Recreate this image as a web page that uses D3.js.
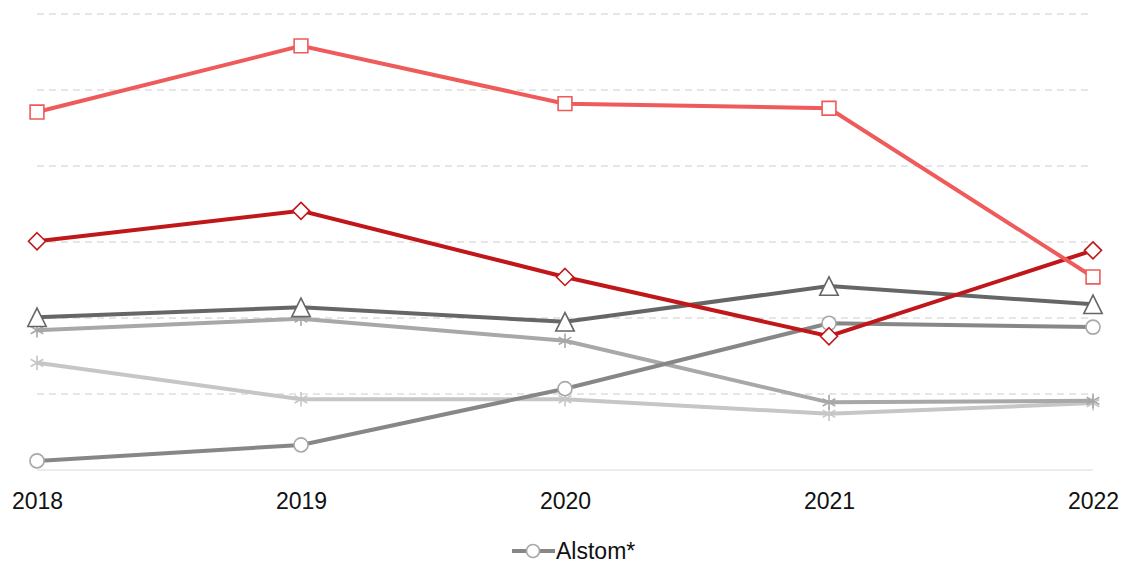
<!DOCTYPE html>
<html>
<head>
<meta charset="utf-8">
<script src="https://cdn.jsdelivr.net/npm/d3@7"></script>
<style>
  body { margin: 0; background: #fff; }
  text { font-family: "Liberation Sans", Arial, sans-serif; }
</style>
</head>
<body>
<div id="chart"></div>
<script>
// data
const years = ["2018", "2019", "2020", "2021", "2022"];
const lightGreyStar = [14.1, 9.3, 9.3, 7.4, 8.8];
const greyStar = [18.4, 19.9, 17.0, 8.9, 9.1];
const alstom = [1.2, 3.3, 10.7, 19.3, 18.8];
const darkGreyTriangle = [20.1, 21.4, 19.5, 24.2, 21.8];
const darkRedDiamond = [30.1, 34.1, 25.4, 17.6, 28.9];
const redSquare = [47.1, 55.8, 48.2, 47.6, 25.4];
const gridTicks = [0, 10, 20, 30, 40, 50, 60];

// custom marker shapes (centred on the point)
const diamond = {draw(ctx, size) {
  const r = Math.sqrt(size) / 2;
  ctx.moveTo(0, -r); ctx.lineTo(r, 0); ctx.lineTo(0, r); ctx.lineTo(-r, 0); ctx.closePath();
}};
const triangle = {draw(ctx, size) {
  const r = Math.sqrt(size) / 2;
  ctx.moveTo(0, -r); ctx.lineTo(r, r); ctx.lineTo(-r, r); ctx.closePath();
}};

const series = [
  {name: "lightGreyStar", values: lightGreyStar, color: "#c6c6c6", symbol: d3.symbolAsterisk, size: 150},
  {name: "greyStar", values: greyStar, color: "#a8a8a8", symbol: d3.symbolAsterisk, size: 150},
  {name: "Alstom*", values: alstom, color: "#878787", marker: "#a8a8a8", symbol: d3.symbolCircle, size: 155},
  {name: "darkGreyTriangle", values: darkGreyTriangle, color: "#666666", symbol: triangle, size: 340},
  {name: "darkRedDiamond", values: darkRedDiamond, color: "#c0171b", symbol: diamond, size: 290},
  {name: "redSquare", values: redSquare, color: "#ef5b5b", symbol: d3.symbolSquare, size: 190}
];

const W = 1128, H = 563;
const svg = d3.select("#chart").append("svg")
  .attr("width", W).attr("height", H);

const x = d3.scalePoint().domain(years).range([37, 1093]);
const y = d3.scaleLinear().domain([0, 60]).range([470, 14]);

// grid lines
svg.append("g")
  .selectAll("line")
  .data(gridTicks)
  .join("line")
    .attr("x1", 37).attr("x2", 1093)
    .attr("y1", d => y(d)).attr("y2", d => y(d))
    .attr("stroke", d => d === 0 ? "#d8d8d8" : "#cccccc")
    .attr("stroke-width", 1)
    .attr("stroke-dasharray", d => d === 0 ? null : "7,5");

// x axis labels
svg.append("g")
  .attr("transform", "translate(0,470)")
  .call(d3.axisBottom(x).tickSize(0).tickPadding(23))
  .call(g => g.select(".domain").remove())
  .selectAll("text")
    .attr("font-size", 23)
    .attr("fill", "#111")
    .style("font-family", "'Liberation Sans', Arial, sans-serif");

const line = d3.line()
  .x((d, i) => x(years[i]))
  .y(d => y(d));

series.forEach(s => {
  const g = svg.append("g");
  g.append("path")
    .datum(s.values)
    .attr("fill", "none")
    .attr("stroke", s.color)
    .attr("stroke-width", 4)
    .attr("d", line);

  const sym = d3.symbol().type(s.symbol).size(s.size);
  g.selectAll("path.pt")
    .data(s.values)
    .join("path")
      .attr("class", "pt")
      .attr("transform", (d, i) => `translate(${x(years[i])},${y(d)})`)
      .attr("d", sym)
      .attr("fill", s.symbol === d3.symbolAsterisk ? "none" : "#fff")
      .attr("stroke", s.marker || s.color)
      .attr("stroke-width", 1.6);
});

// legend
const leg = svg.append("g").attr("transform", "translate(512,551)");
leg.append("line")
  .attr("x1", 0).attr("x2", 43)
  .attr("stroke", "#878787").attr("stroke-width", 4);
leg.append("circle")
  .attr("cx", 21).attr("r", 6.5)
  .attr("fill", "#fff").attr("stroke", "#a8a8a8").attr("stroke-width", 1.6);
leg.append("text")
  .attr("x", 44).attr("y", 8)
  .attr("font-size", 23)
  .attr("fill", "#111")
  .text("Alstom*");
</script>
</body>
</html>
